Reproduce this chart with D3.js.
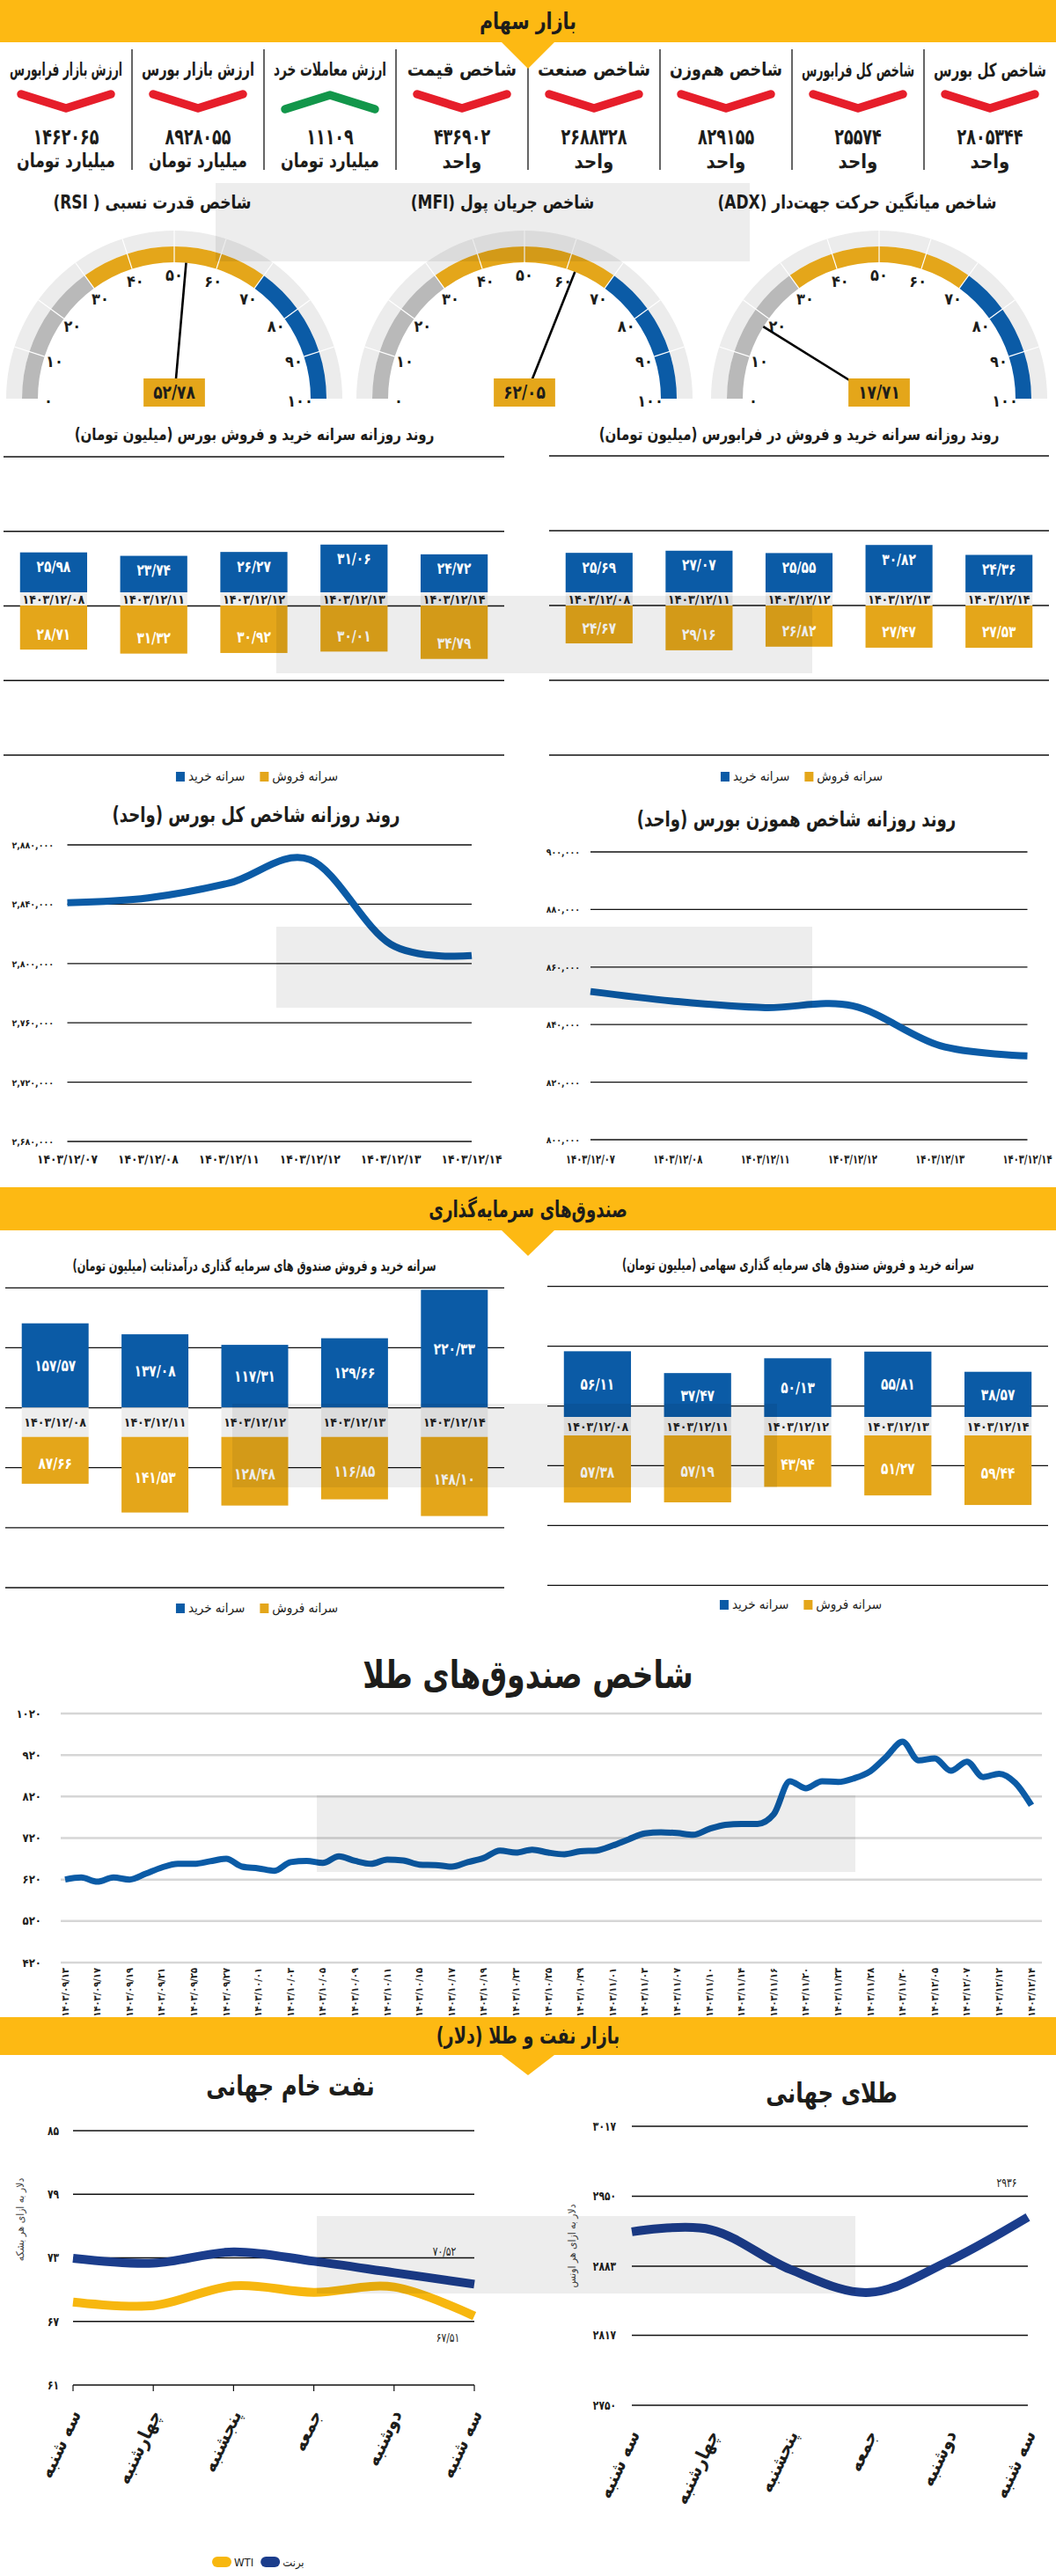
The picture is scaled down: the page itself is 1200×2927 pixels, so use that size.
<!DOCTYPE html>
<html lang="fa"><head><meta charset="utf-8">
<script src="https://cdnjs.cloudflare.com/ajax/libs/d3/7.8.5/d3.min.js"></script>
<style>html,body{margin:0;padding:0;background:#fff}svg{display:block}</style>
</head><body>
<script>
// ---------------- DATA ----------------
const cardTitles = ["ارزش بازار فرابورس","ارزش بازار بورس","ارزش معاملات خرد","شاخص قیمت","شاخص صنعت","شاخص هم‌وزن","شاخص کل فرابورس","شاخص کل بورس"];
const cardValues = [1462065, 8928055, 11109, 436902, 2688328, 829155, 25574, 2805344];
const cardUnits = ["میلیارد تومان","میلیارد تومان","میلیارد تومان","واحد","واحد","واحد","واحد","واحد"];
const cardTrend = ["down","down","up","down","down","down","down","down"];

const gaugeTitles = ["شاخص قدرت نسبی ( RSI)","شاخص جریان پول (MFI)","شاخص میانگین حرکت جهت‌دار (ADX)"];
const gaugeValues = [52.78, 62.05, 17.71];
const gaugeTicks = [0,10,20,30,40,50,60,70,80,90,100];

const flowDates = ["۱۴۰۳/۱۲/۰۸","۱۴۰۳/۱۲/۱۱","۱۴۰۳/۱۲/۱۲","۱۴۰۳/۱۲/۱۳","۱۴۰۳/۱۲/۱۴"];
const bourseBuy = [25.98, 23.74, 26.27, 31.06, 24.72];
const bourseSell = [28.71, 31.32, 30.92, 30.01, 34.79];
const faraBuy = [25.69, 27.07, 25.55, 30.82, 24.36];
const faraSell = [24.67, 29.16, 26.82, 27.47, 27.53];

const indexDates = ["۱۴۰۳/۱۲/۰۷","۱۴۰۳/۱۲/۰۸","۱۴۰۳/۱۲/۱۱","۱۴۰۳/۱۲/۱۲","۱۴۰۳/۱۲/۱۳","۱۴۰۳/۱۲/۱۴"];
const totalIndex = [2841000, 2844300, 2854200, 2870000, 2812900, 2805344];
const totalTicks = [2880000, 2840000, 2800000, 2760000, 2720000, 2680000];
const ewIndex = [851500, 848000, 845900, 846500, 832700, 829155];
const ewTicks = [900000, 880000, 860000, 840000, 820000, 800000];

const fixedBuy = [157.57, 137.08, 117.31, 129.66, 220.33];
const fixedSell = [87.66, 141.53, 128.48, 116.85, 148.10];
const equityBuy = [56.11, 37.47, 50.13, 55.81, 38.57];
const equitySell = [57.38, 57.19, 43.94, 51.27, 59.44];

const goldFundIndex = [620,625,615,625,620,634,649,658,658,664,670,651,647,641,662,665,660,676,665,658,668,666,656,655,651,662,672,690,685,692,685,681,688,690,702,717,731,734,732,728,742,752,754,754,777,857,840,857,855,864,881,916,952,907,912,882,904,867,875,853,799];
const goldFundLabels = ["۱۴۰۳/۰۹/۱۳","۱۴۰۳/۰۹/۱۷","۱۴۰۳/۰۹/۱۹","۱۴۰۳/۰۹/۲۱","۱۴۰۳/۰۹/۲۵","۱۴۰۳/۰۹/۲۷","۱۴۰۳/۱۰/۰۱","۱۴۰۳/۱۰/۰۳","۱۴۰۳/۱۰/۰۵","۱۴۰۳/۱۰/۰۹","۱۴۰۳/۱۰/۱۱","۱۴۰۳/۱۰/۱۵","۱۴۰۳/۱۰/۱۷","۱۴۰۳/۱۰/۱۹","۱۴۰۳/۱۰/۲۳","۱۴۰۳/۱۰/۲۵","۱۴۰۳/۱۰/۲۹","۱۴۰۳/۱۱/۰۱","۱۴۰۳/۱۱/۰۳","۱۴۰۳/۱۱/۰۷","۱۴۰۳/۱۱/۱۰","۱۴۰۳/۱۱/۱۴","۱۴۰۳/۱۱/۱۶","۱۴۰۳/۱۱/۲۰","۱۴۰۳/۱۱/۲۳","۱۴۰۳/۱۱/۲۸","۱۴۰۳/۱۱/۳۰","۱۴۰۳/۱۲/۰۵","۱۴۰۳/۱۲/۰۷","۱۴۰۳/۱۲/۱۲","۱۴۰۳/۱۲/۱۴"];
const goldFundTicks = [1020, 920, 820, 720, 620, 520, 420];

const weekDays = ["سه شنبه","چهارشنبه","پنجشنبه","جمعه","دوشنبه","سه شنبه"];
const brent = [72.96, 72.50, 73.57, 72.68, 71.60, 70.52];
const wti = [68.82, 68.50, 70.36, 69.75, 70.25, 67.51];
const oilTicks = [85, 79, 73, 67, 61];
const goldWorld = [2916, 2918, 2880, 2858, 2888, 2930];
const goldWorldTicks = [3017, 2950, 2883, 2817, 2750];

// ---------------- HELPERS ----------------
const FAD = "۰۱۲۳۴۵۶۷۸۹";
const fa = s => String(s).replace(/[0-9]/g, d => FAD[+d]);
const faDec = v => fa(v.toFixed(2).replace(".", "/"));
const faComma = v => fa(d3.format(",")(v));

const W = 1200, H = 2927;
const YEL = "#fdb913", GOLD = "#e4a61a", BLUE = "#0b5ba6", NAVY = "#1b3d8c", DARK = "#1d1d1b";
const FONT = "'DejaVu Sans Condensed','DejaVu Sans',sans-serif";

const svg = d3.select("body").append("svg").attr("width", W).attr("height", H).attr("font-family", FONT);
svg.append("rect").attr("width", W).attr("height", H).attr("fill", "#fff");

// text helper; sx = horizontal squeeze, maxW = fit width
function T(g, x, y, s, size, o = {}) {
  const t = g.append("text").attr("x", x).attr("y", y).text(s)
    .attr("font-size", size).attr("font-weight", o.w || "bold")
    .attr("fill", o.fill || DARK).attr("text-anchor", o.a || "middle")
    .attr("dominant-baseline", "central").attr("direction", o.dir || "rtl");
  let sx = o.sx || 1;
  const w = t.node().getComputedTextLength();
  if (o.maxW && w * sx > o.maxW) sx = o.maxW / w;
  if (sx !== 1) t.attr("transform", `translate(${x},${y}) scale(${sx},1) translate(${-x},${-y})`);
  t.node().__w = w * sx;
  return t;
}
function hline(g, x0, x1, y, stroke, w) {
  g.append("line").attr("x1", x0).attr("x2", x1).attr("y1", y).attr("y2", y).attr("stroke", stroke).attr("stroke-width", w);
}
function banner(y0, h, apex, title, sx) {
  svg.append("rect").attr("x", 0).attr("y", y0).attr("width", W).attr("height", h).attr("fill", YEL);
  svg.append("path").attr("d", `M570,${y0 + h}L630,${y0 + h}L600,${apex}Z`).attr("fill", YEL);
  T(svg, 600, y0 + h / 2, title, 26, { sx: sx });
}

// ---------------- CARDS ----------------
const cardX = d3.scaleBand().domain(d3.range(cardTitles.length)).range([0, W]);
const lineGen = d3.line();
cardTitles.forEach((t, i) => {
  const cx = cardX(i) + cardX.bandwidth() / 2;
  if (i > 0) svg.append("line").attr("x1", cardX(i)).attr("x2", cardX(i)).attr("y1", 56).attr("y2", 193).attr("stroke", "#333").attr("stroke-width", 1.5);
  T(svg, cx, 79, t, 21, { maxW: 128 });
  const up = cardTrend[i] === "up";
  const pts = up ? [[cx - 51, 124], [cx, 108], [cx + 51, 124]] : [[cx - 51, 107], [cx, 123], [cx + 51, 107]];
  svg.append("path").attr("d", lineGen(pts)).attr("fill", "none").attr("stroke", up ? "#12964a" : "#e61e2a")
    .attr("stroke-width", 9.5).attr("stroke-linecap", "round").attr("stroke-linejoin", "round");
  T(svg, cx, 155, fa(cardValues[i]), 25, { dir: "ltr", sx: 0.78 });
  T(svg, cx, 183, cardUnits[i], 22, { maxW: 112 });
});
banner(0, 48, 78, "بازار سهام", 0.88);

// ---------------- GAUGES ----------------
const gAngle = d3.scaleLinear().domain([0, 100]).range([-Math.PI / 2, Math.PI / 2]);
const arc = d3.arc();
const gaugeCX = [198, 596, 999];
gaugeTitles.forEach((title, i) => {
  const cx = gaugeCX[i], cy = 453;
  const g = svg.append("g").attr("transform", `translate(${cx},${cy})`);
  g.append("path").attr("d", arc({ innerRadius: 173, outerRadius: 191, startAngle: gAngle(0), endAngle: gAngle(100) })).attr("fill", "#ececec");
  d3.range(0, 100, 10).forEach(v => {
    g.append("path").attr("d", arc({ innerRadius: 155, outerRadius: 173, startAngle: gAngle(v), endAngle: gAngle(v + 10) }))
      .attr("fill", v < 30 ? "#b9b9b9" : v < 70 ? GOLD : BLUE);
  });
  d3.range(10, 100, 10).forEach(v => {
    const a = gAngle(v);
    g.append("line").attr("x1", 155 * Math.sin(a)).attr("y1", -155 * Math.cos(a)).attr("x2", 191 * Math.sin(a)).attr("y2", -191 * Math.cos(a))
      .attr("stroke", "#fff").attr("stroke-width", 1.2);
  });
  gaugeTicks.forEach(v => {
    const a = gAngle(v);
    T(g, 143 * Math.sin(a), -143 * Math.cos(a) + 2, fa(v), 18, { dir: "ltr" });
  });
  const a = gAngle(gaugeValues[i]);
  g.append("line").attr("x1", 0).attr("y1", 0).attr("x2", 155 * Math.sin(a)).attr("y2", -155 * Math.cos(a))
    .attr("stroke", "#000").attr("stroke-width", 2.6);
  const box = g.append("rect").attr("fill", GOLD);
  const t = T(g, 0, -7, faDec(gaugeValues[i]), 21, { dir: "ltr", sx: 0.9 });
  const w = t.node().__w + 22;
  box.attr("x", -w / 2).attr("y", -23).attr("width", w).attr("height", 32);
  T(svg, cx - 25, 230, title, 21, { sx: 0.9 });
});

// ---------------- FLOW BAR CHARTS ----------------
function legend(g, cx, y, size) {
  const items = [{ c: BLUE, t: "سرانه خرید" }, { c: GOLD, t: "سرانه فروش" }];
  const lg = g.append("g");
  let xx = 0;
  items.forEach(it => {
    lg.append("rect").attr("x", xx).attr("y", y - 5).attr("width", 10).attr("height", 11).attr("fill", it.c);
    const t = T(lg, xx + 14, y, it.t, size, { a: "start", dir: "ltr", w: "normal" });
    xx += 14 + t.node().__w + 17;
  });
  lg.attr("transform", `translate(${cx - (xx - 17) / 2},0)`);
}
function flowChart(o) {
  const g = svg.append("g");
  const x = d3.scaleBand().domain(flowDates).range([o.x0, o.x1]).paddingInner(0.33).paddingOuter(0.165);
  const grid = d3.scaleLinear().domain([0, o.gridN - 1]).range([o.gTop, o.gBot]);
  d3.range(o.gridN).forEach(k => hline(g, o.x0, o.x1, grid(k), "#111", 1.3));
  const h = d3.scaleLinear().domain([0, 100]).range([0, 100 * o.unit]);
  flowDates.forEach((d, i) => {
    const bx = x(d), bw = x.bandwidth();
    const bTop = o.blueBase - h(o.buy[i]);
    const sBot = o.sellBase + h(o.sell[i]);
    g.append("rect").attr("x", bx).attr("y", bTop).attr("width", bw).attr("height", h(o.buy[i])).attr("fill", BLUE);
    g.append("rect").attr("x", bx).attr("y", o.blueBase).attr("width", bw).attr("height", o.sellBase - o.blueBase).attr("fill", "#ededed");
    g.append("rect").attr("x", bx).attr("y", o.sellBase).attr("width", bw).attr("height", h(o.sell[i])).attr("fill", GOLD);
    T(g, bx + bw / 2, (o.blueBase + o.sellBase) / 2, d, o.dateSize, { dir: "ltr", fill: "#222", maxW: bw - 2 });
    const ly1 = o.inside ? bTop + 16 : (bTop + o.blueBase) / 2;
    const ly2 = o.inside ? sBot - 18 : (o.sellBase + sBot) / 2 + 3;
    T(g, bx + bw / 2, ly1, faDec(o.buy[i]), o.valSize, { dir: "ltr", fill: "#fff", sx: 0.85 });
    T(g, bx + bw / 2, ly2, faDec(o.sell[i]), o.valSize, { dir: "ltr", fill: "#fff", sx: 0.85 });
  });
  T(g, o.titleX, o.titleY, o.title, o.titleSize, { sx: o.titleSx });
  legend(g, o.legX, o.legY, 15);
}
flowChart({ x0: 4, x1: 573, gridN: 5, gTop: 519, gBot: 858, blueBase: 673, sellBase: 688, unit: 1.745,
  buy: bourseBuy, sell: bourseSell, inside: true, dateSize: 14, valSize: 18,
  title: "روند روزانه سرانه خرید و فروش بورس (میلیون تومان)", titleX: 289, titleY: 493, titleSize: 19, titleSx: 0.88, legX: 292, legY: 882 });
flowChart({ x0: 624, x1: 1192, gridN: 5, gTop: 518, gBot: 858, blueBase: 673, sellBase: 688, unit: 1.745,
  buy: faraBuy, sell: faraSell, inside: true, dateSize: 14, valSize: 18,
  title: "روند روزانه سرانه خرید و فروش در فرابورس (میلیون تومان)", titleX: 908, titleY: 493, titleSize: 19, titleSx: 0.88, legX: 911, legY: 882 });

// ---------------- INDEX LINE CHARTS ----------------
function lineChart(o) {
  const g = svg.append("g");
  const x = d3.scalePoint().domain(indexDates).range([o.x0, o.x1]);
  const y = d3.scaleLinear().domain([d3.min(o.ticks), d3.max(o.ticks)]).range([o.yBot, o.yTop]);
  o.ticks.forEach(t => { hline(g, o.x0, o.x1, y(t), "#111", 1.3); T(g, o.labX, y(t), faComma(t), 10.5, { a: "end", dir: "ltr" }); });
  indexDates.forEach(d => T(g, x(d), 1317, d, 14, { dir: "ltr", maxW: o.xLabW }));
  g.append("path").datum(o.values)
    .attr("d", d3.line().x((v, i) => x(indexDates[i])).y(v => y(v)).curve(d3.curveCardinal.tension(0)))
    .attr("fill", "none").attr("stroke", BLUE).attr("stroke-width", 8);
  T(g, o.titleX, o.titleY, o.title, 24, { sx: 0.84 });
}
lineChart({ x0: 76.5, x1: 536, yTop: 960, yBot: 1297, ticks: totalTicks, values: totalIndex, labX: 61, xLabW: 69,
  title: "روند روزانه شاخص کل بورس (واحد)", titleX: 291, titleY: 925 });
lineChart({ x0: 671, x1: 1167.5, yTop: 968, yBot: 1295, ticks: ewTicks, values: ewIndex, labX: 659, xLabW: 56,
  title: "روند روزانه شاخص هموزن بورس (واحد)", titleX: 905, titleY: 930 });

// ---------------- FUNDS ----------------
banner(1349, 49, 1427, "صندوق‌های سرمایه‌گذاری", 0.78);
flowChart({ x0: 6, x1: 573, gridN: 6, gTop: 1463.3, gBot: 1804, blueBase: 1599.3, sellBase: 1632.7, unit: 0.607,
  buy: fixedBuy, sell: fixedSell, inside: false, dateSize: 14, valSize: 18,
  title: "سرانه خرید و فروش صندوق های سرمایه گذاری درآمدثابت (میلیون تومان)", titleX: 289, titleY: 1438, titleSize: 17, titleSx: 0.74, legX: 292, legY: 1827 });
flowChart({ x0: 622, x1: 1191, gridN: 6, gTop: 1461.7, gBot: 1801.3, blueBase: 1610, sellBase: 1631, unit: 1.33,
  buy: equityBuy, sell: equitySell, inside: false, dateSize: 14, valSize: 18,
  title: "سرانه خرید و فروش صندوق های سرمایه گذاری سهامی (میلیون تومان)", titleX: 907, titleY: 1437, titleSize: 17, titleSx: 0.74, legX: 910, legY: 1823 });

// ---------------- GOLD FUNDS INDEX ----------------
(function () {
  const g = svg.append("g");
  const x = d3.scalePoint().domain(d3.range(goldFundIndex.length)).range([74, 1172]);
  const y = d3.scaleLinear().domain([420, 1020]).range([2230, 1947]);
  goldFundTicks.forEach(t => { hline(g, 69, 1184, y(t), "#d6d6d6", 2.5); T(g, 47, y(t), fa(t), 13, { a: "end", dir: "ltr" }); });
  goldFundLabels.forEach((l, k) => {
    const lx = x(k * 2);
    const tg = g.append("g").attr("transform", `translate(${lx},2236) rotate(-90)`);
    const t = T(tg, 0, 0, l, 11, { dir: "ltr" });
    t.attr("x", -t.node().getComputedTextLength() / 2);
  });
  g.append("path").datum(goldFundIndex)
    .attr("d", d3.line().x((v, i) => x(i)).y(v => y(v)).curve(d3.curveMonotoneX))
    .attr("fill", "none").attr("stroke", BLUE).attr("stroke-width", 7).attr("stroke-linejoin", "round");
  T(g, 600, 1903, "شاخص صندوق‌های طلا", 44, { sx: 0.84 });
})();

// ---------------- OIL & GOLD ----------------
banner(2292, 43, 2358, "بازار نفت و طلا (دلار)", 0.82);
function worldChart(o) {
  const g = svg.append("g");
  const x = d3.scalePoint().domain(d3.range(weekDays.length)).range([o.x0, o.x1]);
  const y = d3.scaleLinear().domain([d3.min(o.ticks), d3.max(o.ticks)]).range([o.yBot, o.yTop]);
  o.ticks.forEach(t => { hline(g, o.x0, o.x1, y(t), "#111", 1.5); T(g, o.labX, y(t), fa(t), 14, { a: "end", dir: "ltr", sx: 0.85 }); });
  if (o.tickMarks) weekDays.forEach((d, i) => g.append("line").attr("x1", x(i)).attr("x2", x(i)).attr("y1", o.yBot).attr("y2", o.yBot + 7).attr("stroke", "#111").attr("stroke-width", 1.2));
  weekDays.forEach((d, i) => {
    const tg = g.append("g").attr("transform", `translate(${x(i) + 3},${o.yBot + 30}) rotate(-65)`);
    const t = T(tg, 0, 0, d, 21);
    t.attr("x", -t.node().getComputedTextLength() / 2);
  });
  const tg = g.append("g").attr("transform", `translate(${o.axX},${o.axY}) rotate(-90)`);
  T(tg, 0, 0, o.axTitle, 12, { w: "normal", fill: "#444" });
  o.series.forEach(s => {
    g.append("path").datum(s.values)
      .attr("d", d3.line().x((v, i) => x(i)).y(v => y(v)).curve(d3.curveCardinal.tension(0)))
      .attr("fill", "none").attr("stroke", s.color).attr("stroke-width", 10);
  });
  o.notes.forEach(n => T(g, n.x, y(n.v) + n.dy, n.text, 14, { dir: "ltr", w: "normal", sx: 0.85 }));
  T(g, o.titleX, o.titleY, o.title, 32, { sx: 0.85 });
  return g;
}
worldChart({ x0: 83, x1: 539, yTop: 2421, yBot: 2710, ticks: oilTicks, labX: 67, tickMarks: true,
  axX: 23, axY: 2522, axTitle: "دلار به ازای هر بشکه",
  series: [{ values: wti, color: "#f7b70f" }, { values: brent, color: NAVY }],
  notes: [{ x: 505, v: 73, dy: -7, text: "۷۰/۵۲" }, { x: 509, v: 67, dy: 18, text: "۶۷/۵۱" }],
  title: "نفت خام جهانی", titleX: 330, titleY: 2370 });
worldChart({ x0: 718, x1: 1168, yTop: 2416, yBot: 2733, ticks: goldWorldTicks, labX: 700, tickMarks: false,
  axX: 650, axY: 2552, axTitle: "دلار به ازای هر اونس",
  series: [{ values: goldWorld, color: NAVY }],
  notes: [{ x: 1144, v: 2950, dy: -15, text: "۲۹۳۶" }],
  title: "طلای جهانی", titleX: 945, titleY: 2378 });
// oil legend
(function () {
  const lg = svg.append("g");
  const items = [{ c: "#f7b70f", t: "WTI" }, { c: NAVY, t: "برنت" }];
  let xx = 241;
  items.forEach(it => {
    lg.append("rect").attr("x", xx).attr("y", 2905).attr("width", 22).attr("height", 12).attr("rx", 6).attr("fill", it.c);
    const t = T(lg, xx + 25, 2911, it.t, 13, { a: "start", dir: "ltr", w: "normal" });
    xx += 25 + t.node().__w + 8;
  });
})();

// ---------------- WATERMARK PANELS ----------------
[[245, 208, 607, 89], [314, 677, 609, 88], [314, 1053, 609, 92], [264, 1595, 619, 95], [360, 2040, 612, 87], [360, 2518, 612, 88]]
  .forEach(r => svg.append("rect").attr("x", r[0]).attr("y", r[1]).attr("width", r[2]).attr("height", r[3]).attr("fill", "#000").attr("opacity", 0.07));
</script></body></html>
